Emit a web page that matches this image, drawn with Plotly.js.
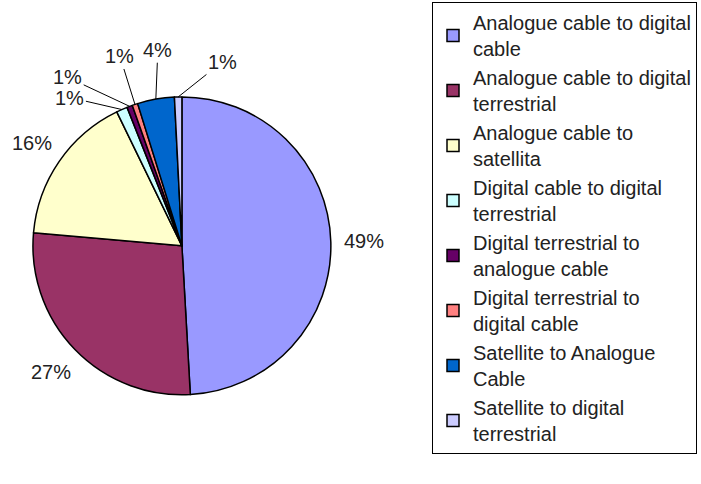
<!DOCTYPE html>
<html><head><meta charset="utf-8">
<script src="https://cdn.plot.ly/plotly-3.0.1.min.js"></script>
<style>html,body{margin:0;padding:0;background:#fff}</style>
</head><body>
<div id="chart" style="width:701px;height:484px"></div>
<script>
const categories = [
  "Analogue cable to digital<br>cable",
  "Analogue cable to digital<br>terrestrial",
  "Analogue cable to<br>satellita",
  "Digital cable to digital<br>terrestrial",
  "Digital terrestrial to<br>analogue cable",
  "Digital terrestrial to<br>digital cable",
  "Satellite to Analogue<br>Cable",
  "Satellite to digital<br>terrestrial"
];
const shares = [49.1, 27.3, 16.4, 1.2, 0.6, 0.6, 4.0, 0.8];
const colors = ["#9999FF", "#993366", "#FFFFCC", "#CCFFFF", "#660066", "#FF8080", "#0066CC", "#CCCCFF"];
// label placement (styling): pixel offsets of each label from its slice edge; null = radial placement
const labelOffsets = [null, null, null, [-52, -12], [-62, -29], [-15, -48], [2, -49], [44, -35]];

const W = 701, H = 484;
const dom = {x: [0.047, 0.472], y: [0.184, 0.8]};
const cx = (dom.x[0] + dom.x[1]) / 2 * W;
const cy = (1 - (dom.y[0] + dom.y[1]) / 2) * H;
const R = Math.min((dom.x[1] - dom.x[0]) * W, (dom.y[1] - dom.y[0]) * H) / 2;
const FONT = "Liberation Sans, Arial, sans-serif";

const total = shares.reduce((a, b) => a + b, 0);
let cum = 0;
const annotations = shares.map((v, i) => {
  const mid = (cum + v / 2) / total * 2 * Math.PI;
  cum += v;
  const txt = Math.round(v / total * 100) + "%";
  const off = labelOffsets[i];
  if (!off) {
    const rr = R * 1.22;
    return {x: (cx + rr * Math.sin(mid)) / W, y: 1 - (cy - rr * Math.cos(mid)) / H,
      xref: "paper", yref: "paper", xanchor: "center", yanchor: "middle",
      text: txt, showarrow: false,
      font: {family: FONT, size: 20, color: "#222"}};
  }
  const tx = cx + R * Math.sin(mid), ty = cy - R * Math.cos(mid);
  return {x: tx / W, y: 1 - ty / H, xref: "paper", yref: "paper", text: txt,
    showarrow: true, arrowhead: 0, arrowwidth: 1, arrowcolor: "#000",
    ax: off[0], ay: off[1], standoff: 0,
    font: {family: FONT, size: 20, color: "#222"}};
});

const data = [{
  type: "pie",
  labels: categories,
  values: shares,
  sort: false,
  direction: "clockwise",
  rotation: 0,
  marker: {colors: colors, line: {color: "#000", width: 1.5}},
  textinfo: "none",
  domain: dom,
  hoverinfo: "label+percent"
}];

const layout = {
  width: W, height: H,
  margin: {l: 0, r: 0, t: 0, b: 0},
  paper_bgcolor: "#fff",
  font: {family: FONT, size: 20, color: "#222"},
  showlegend: true,
  annotations: annotations,
  legend: {
    x: 432 / W, y: 1 - 2 / H, xanchor: "left", yanchor: "top",
    bordercolor: "#000", borderwidth: 1, bgcolor: "#fff",
    font: {family: FONT, size: 20, color: "#222"}
  }
};
Plotly.newPlot("chart", data, layout, {displayModeBar: false, staticPlot: true});
</script>
</body></html>
